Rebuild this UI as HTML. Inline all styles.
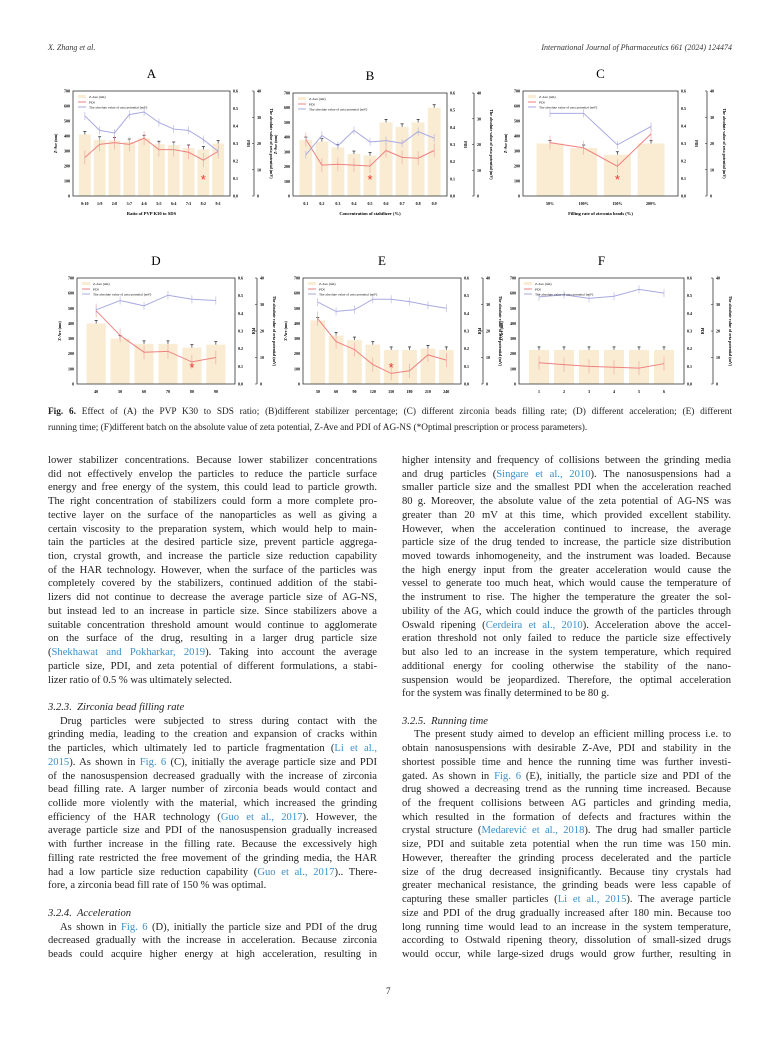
<!DOCTYPE html>
<html><head><meta charset="utf-8">
<style>
body{margin:0;background:#fff;}
#pg{position:relative;width:780px;height:1040px;overflow:hidden;background:#fff;font-family:"Liberation Serif",serif;color:#222;}
.ab{position:absolute;}
.hd{font-style:italic;font-size:8px;top:43px;color:#333;}
.col{position:absolute;width:329px;font-size:10.6px;line-height:13.72px;}
.col div{text-align:justify;text-align-last:justify;white-space:nowrap;height:13.72px;}
.col div.l{text-align-last:left;}
.col div.i{text-indent:12px;}
.col div.h{font-style:italic;}
.col div.g{height:13.8px;}
a{color:#3a8fc8;text-decoration:none;}
.cap{left:48px;width:684px;font-size:9.3px;line-height:15.5px;top:405px;}
.cap div{text-align:justify;text-align-last:justify;white-space:nowrap;}
</style></head><body><div id="pg">
<div class="ab hd" style="left:48px">X. Zhang et al.</div>
<div class="ab hd" style="right:48px">International Journal of Pharmaceutics 661 (2024) 124474</div>
<svg id="ch" class="ab" style="left:0;top:0" width="780" height="400"></svg>
<div class="ab cap"><div><b>Fig. 6.</b> Effect of (A) the PVP K30 to SDS ratio; (B)different stabilizer percentage; (C) different zirconia beads filling rate; (D) different acceleration; (E) different</div><div style="text-align-last:left">running time; (F)different batch on the absolute value of zeta potential, Z-Ave and PDI of AG-NS (*Optimal prescription or process parameters).</div></div>

<div class="col" style="left:48px;top:454px">
<div>lower stabilizer concentrations. Because lower stabilizer concentrations</div>
<div>did not effectively envelop the particles to reduce the particle surface</div>
<div>energy and free energy of the system, this could lead to particle growth.</div>
<div>The right concentration of stabilizers could form a more complete pro-</div>
<div>tective layer on the surface of the nanoparticles as well as giving a</div>
<div>certain viscosity to the preparation system, which would help to main-</div>
<div>tain the particles at the desired particle size, prevent particle aggrega-</div>
<div>tion, crystal growth, and increase the particle size reduction capability</div>
<div>of the HAR technology. However, when the surface of the particles was</div>
<div>completely covered by the stabilizers, continued addition of the stabi-</div>
<div>lizers did not continue to decrease the average particle size of AG-NS,</div>
<div>but instead led to an increase in particle size. Since stabilizers above a</div>
<div>suitable concentration threshold amount would continue to agglomerate</div>
<div>on the surface of the drug, resulting in a larger drug particle size</div>
<div>(<a>Shekhawat and Pokharkar, 2019</a>). Taking into account the average</div>
<div>particle size, PDI, and zeta potential of different formulations, a stabi-</div>
<div class="l">lizer ratio of 0.5 % was ultimately selected.</div>
<div class="g"></div>
<div class="h l">3.2.3.&nbsp; Zirconia bead filling rate</div>
<div class="i">Drug particles were subjected to stress during contact with the</div>
<div>grinding media, leading to the creation and expansion of cracks within</div>
<div>the particles, which ultimately led to particle fragmentation (<a>Li et al.,</a></div>
<div><a>2015</a>). As shown in <a>Fig. 6</a> (C), initially the average particle size and PDI</div>
<div>of the nanosuspension decreased gradually with the increase of zirconia</div>
<div>bead filling rate. A larger number of zirconia beads would contact and</div>
<div>collide more violently with the material, which increased the grinding</div>
<div>efficiency of the HAR technology (<a>Guo et al., 2017</a>). However, the</div>
<div>average particle size and PDI of the nanosuspension gradually increased</div>
<div>with further increase in the filling rate. Because the excessively high</div>
<div>filling rate restricted the free movement of the grinding media, the HAR</div>
<div>had a low particle size reduction capability (<a>Guo et al., 2017</a>).. There-</div>
<div class="l">fore, a zirconia bead fill rate of 150 % was optimal.</div>
<div class="g"></div>
<div class="h l">3.2.4.&nbsp; Acceleration</div>
<div class="i">As shown in <a>Fig. 6</a> (D), initially the particle size and PDI of the drug</div>
<div>decreased gradually with the increase in acceleration. Because zirconia</div>
<div>beads could acquire higher energy at high acceleration, resulting in</div>
</div>

<div class="col" style="left:402px;top:454px">
<div>higher intensity and frequency of collisions between the grinding media</div>
<div>and drug particles (<a>Singare et al., 2010</a>). The nanosuspensions had a</div>
<div>smaller particle size and the smallest PDI when the acceleration reached</div>
<div>80 g. Moreover, the absolute value of the zeta potential of AG-NS was</div>
<div>greater than 20 mV at this time, which provided excellent stability.</div>
<div>However, when the acceleration continued to increase, the average</div>
<div>particle size of the drug tended to increase, the particle size distribution</div>
<div>moved towards inhomogeneity, and the instrument was loaded. Because</div>
<div>the high energy input from the greater acceleration would cause the</div>
<div>vessel to generate too much heat, which would cause the temperature of</div>
<div>the instrument to rise. The higher the temperature the greater the sol-</div>
<div>ubility of the AG, which could induce the growth of the particles through</div>
<div>Oswald ripening (<a>Cerdeira et al., 2010</a>). Acceleration above the accel-</div>
<div>eration threshold not only failed to reduce the particle size effectively</div>
<div>but also led to an increase in the system temperature, which required</div>
<div>additional energy for cooling otherwise the stability of the nano-</div>
<div>suspension would be jeopardized. Therefore, the optimal acceleration</div>
<div class="l">for the system was finally determined to be 80 g.</div>
<div class="g"></div>
<div class="h l">3.2.5.&nbsp; Running time</div>
<div class="i">The present study aimed to develop an efficient milling process i.e. to</div>
<div>obtain nanosuspensions with desirable Z-Ave, PDI and stability in the</div>
<div>shortest possible time and hence the running time was further investi-</div>
<div>gated. As shown in <a>Fig. 6</a> (E), initially, the particle size and PDI of the</div>
<div>drug showed a decreasing trend as the running time increased. Because</div>
<div>of the frequent collisions between AG particles and grinding media,</div>
<div>which resulted in the formation of defects and fractures within the</div>
<div>crystal structure (<a>Medarević et al., 2018</a>). The drug had smaller particle</div>
<div>size, PDI and suitable zeta potential when the run time was 150 min.</div>
<div>However, thereafter the grinding process decelerated and the particle</div>
<div>size of the drug decreased insignificantly. Because tiny crystals had</div>
<div>greater mechanical resistance, the grinding beads were less capable of</div>
<div>capturing these smaller particles (<a>Li et al., 2015</a>). The average particle</div>
<div>size and PDI of the drug gradually increased after 180 min. Because too</div>
<div>long running time would lead to an increase in the system temperature,</div>
<div>according to Ostwald ripening theory, dissolution of small-sized drugs</div>
<div>would occur, while large-sized drugs would grow further, resulting in</div>
</div>
<div class="ab" style="left:386px;top:986px;font-size:9px">7</div>
</div>
<script>
var C=[
{t:"A",x0:73,x1:230,z:254,y0:91,y1:196,lab:["0:10","1:9","2:8","3:7","4:6","5:5","6:4","7:3","8:2","9:1"],xl:"Ratio of PVP K30 to SDS",
 b:[410,375,370,360,385,345,340,320,310,350],p:[.22,.295,.305,.295,.33,.265,.265,.25,.205,.255],z2:[30.5,25,24,31,32,28,25.5,25,21.5,17],s:8},
{t:"B",x0:293,x1:447,z:474,y0:93,y1:196,lab:["0.1","0.2","0.3","0.4","0.5","0.6","0.7","0.8","0.9"],xl:"Concentration of stabilizer (%)",
 b:[380,370,330,285,275,500,470,500,600],p:[.33,.18,.185,.18,.175,.265,.225,.22,.265],z2:[16,23.5,19.5,25.5,21,21.5,20.5,25,22.5],s:4},
{t:"C",x0:523,x1:678,z:707,y0:91,y1:196,lab:["50%","100%","150%","200%"],xl:"Filling rate of zirconia beads (%)",
 b:[350,320,275,350],p:[.305,.275,.17,.355],z2:[31.5,31.5,19.5,26.5],s:2},
{t:"D",x0:77,x1:235,z:257,y0:278,y1:384,lab:["40","50","60","70","80","90"],xl:"Acceleration (g)",
 b:[400,300,265,265,240,260],p:[.415,.275,.18,.185,.125,.15],z2:[28,31.5,29.5,33.5,32,31.5],s:4},
{t:"E",x0:303,x1:461,z:483,y0:278,y1:384,lab:["30","60","90","120","150","180","210","240"],xl:"Running time (min)",
 b:[420,320,290,260,225,225,235,225],p:[.37,.24,.195,.11,.06,.075,.165,.135],z2:[30.9,27.4,28,32,32,31.1,29.7,28.6],s:4},
{t:"F",x0:519,x1:684,z:713,y0:278,y1:384,lab:["1","2","3","4","5","6"],xl:"Batch",
 b:[225,225,225,225,225,225],p:[.12,.11,.1,.095,.09,.115],z2:[32.9,33.7,32.3,33.1,35.7,34.3],s:-1}
];
var s="";
C.forEach(function(c){
 var w=c.x1-c.x0,h=c.y1-c.y0,n=c.b.length,cw=w/(n+0.6),xs=function(i){return c.x0+cw*(i+0.8);};
 var Y=function(v){return c.y1-v/700*h;},P=function(v){return c.y1-v/0.6*h;},Z=function(v){return c.y1-v/40*h;};
 s+='<text x="'+((c.x0+c.x1)/2)+'" y="'+(c.y0-13)+'" font-size="13" text-anchor="middle" font-family="Liberation Serif">'+c.t+'</text>';
 for(var i=0;i<n;i++){var bw=cw*0.8;s+='<rect x="'+(xs(i)-bw/2)+'" y="'+Y(c.b[i])+'" width="'+bw+'" height="'+(c.y1-Y(c.b[i]))+'" fill="#f9ecd2"/>';
  s+='<line x1="'+xs(i)+'" x2="'+xs(i)+'" y1="'+(Y(c.b[i])-3)+'" y2="'+Y(c.b[i])+'" stroke="#333" stroke-width=".7"/><line x1="'+(xs(i)-1.5)+'" x2="'+(xs(i)+1.5)+'" y1="'+(Y(c.b[i])-3)+'" y2="'+(Y(c.b[i])-3)+'" stroke="#333" stroke-width=".8"/>';}
 var pp="",zp="";for(i=0;i<n;i++){pp+=xs(i)+','+P(c.p[i])+' ';zp+=xs(i)+','+Z(c.z2[i])+' ';
  s+='<line x1="'+xs(i)+'" x2="'+xs(i)+'" y1="'+(P(c.p[i])-7)+'" y2="'+(P(c.p[i])+7)+'" stroke="#f0a0a0" stroke-width=".6"/>';
  s+='<line x1="'+xs(i)+'" x2="'+xs(i)+'" y1="'+(Z(c.z2[i])-4)+'" y2="'+(Z(c.z2[i])+4)+'" stroke="#b0b0e0" stroke-width=".6"/>';}
 s+='<polyline points="'+zp+'" fill="none" stroke="#a9a9e2" stroke-width="1"/><polyline points="'+pp+'" fill="none" stroke="#ef8080" stroke-width="1"/>';
 if(c.s>=0)s+='<text x="'+xs(c.s)+'" y="'+(c.y1-12)+'" font-size="13" fill="#f03030" text-anchor="middle" font-family="Liberation Sans">*</text>';
 s+='<rect x="'+c.x0+'" y="'+c.y0+'" width="'+w+'" height="'+h+'" fill="none" stroke="#333" stroke-width=".8"/>';
 s+='<line x1="'+c.z+'" x2="'+c.z+'" y1="'+c.y0+'" y2="'+c.y1+'" stroke="#333" stroke-width=".8"/>';
 var f='font-size="4" font-weight="bold" font-family="Liberation Serif"';
 for(var k=0;k<=7;k++){var y=Y(k*100);s+='<text x="'+(c.x0-3)+'" y="'+(y+1.5)+'" '+f+' text-anchor="end">'+k*100+'</text><text x="'+(c.x1+3)+'" y="'+(c.y1-k/7*h+1.5)+'" '+f+'></text>';}
 for(k=0;k<=6;k++){s+='<text x="'+(c.x1+3)+'" y="'+(P(k/10)+1.5)+'" '+f+'>'+(k/10).toFixed(1)+'</text>';}
 for(k=0;k<=4;k++){s+='<text x="'+(c.z+3)+'" y="'+(Z(k*10)+1.5)+'" '+f+'>'+k*10+'</text><line x1="'+(c.z-2)+'" x2="'+c.z+'" y1="'+Z(k*10)+'" y2="'+Z(k*10)+'" stroke="#333" stroke-width=".6"/>';}
 for(i=0;i<n;i++)s+='<text x="'+xs(i)+'" y="'+(c.y1+9)+'" '+f+' text-anchor="middle">'+c.lab[i]+'</text>';
 s+='<text x="'+((c.x0+c.x1)/2)+'" y="'+(c.y1+19)+'" font-size="4.6" font-weight="bold" text-anchor="middle" font-family="Liberation Serif">'+c.xl+'</text>';
 s+='<text transform="translate('+(c.x0-16)+','+((c.y0+c.y1)/2)+') rotate(-90)" '+f+' text-anchor="middle">Z-Ave (nm)</text>';
 s+='<text transform="translate('+(c.x1+17)+','+((c.y0+c.y1)/2)+') rotate(90)" '+f+' text-anchor="middle">PDI</text>';
 s+='<text transform="translate('+(c.z+16)+','+((c.y0+c.y1)/2)+') rotate(90)" '+f+' text-anchor="middle">The absolute value of zeta potential (mV)</text>';
 var lx=c.x0+5,ly=c.y0+4;
 s+='<rect x="'+lx+'" y="'+ly+'" width="8" height="3" fill="#f9ecd2"/><text x="'+(lx+11)+'" y="'+(ly+3)+'" font-size="3.5" font-family="Liberation Serif">Z-Ave (nm)</text>';
 s+='<line x1="'+lx+'" x2="'+(lx+8)+'" y1="'+(ly+7)+'" y2="'+(ly+7)+'" stroke="#ef8080"/><text x="'+(lx+11)+'" y="'+(ly+8.5)+'" font-size="3.5" font-family="Liberation Serif">PDI</text>';
 s+='<line x1="'+lx+'" x2="'+(lx+8)+'" y1="'+(ly+12)+'" y2="'+(ly+12)+'" stroke="#a9a9e2"/><text x="'+(lx+11)+'" y="'+(ly+13.5)+'" font-size="3.5" font-family="Liberation Serif">The absolute value of zeta potential (mV)</text>';
});
document.getElementById("ch").innerHTML=s;
</script>
</body></html>
